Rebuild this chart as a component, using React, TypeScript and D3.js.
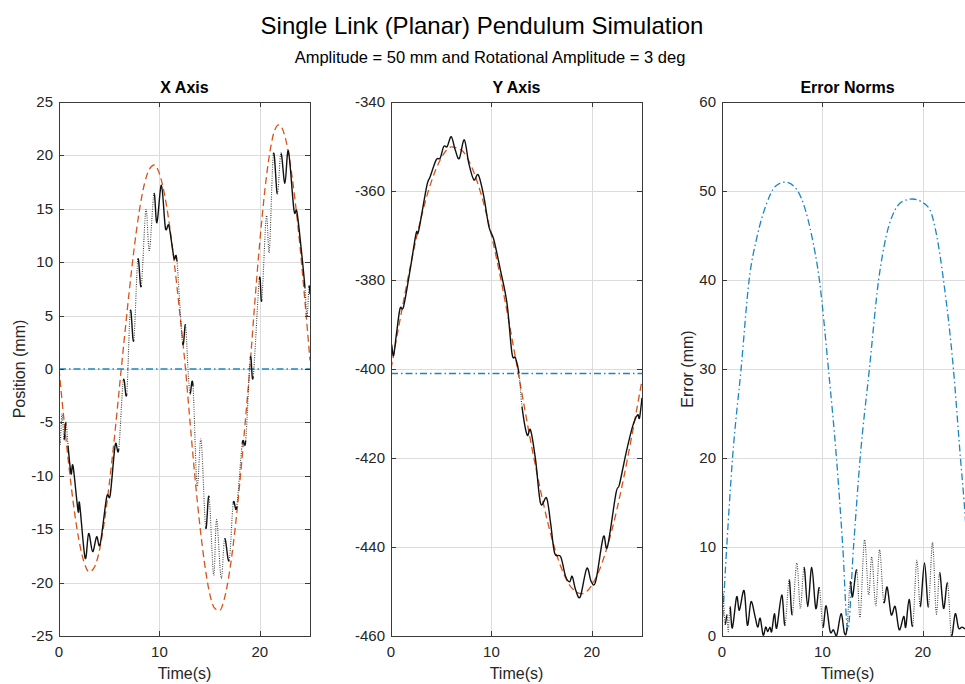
import React from 'react';
import * as d3 from 'd3';

const W = 965;
const H = 684;

const timeTicks = [0, 10, 20];
const posTicks = [-25, -20, -15, -10, -5, 0, 5, 10, 15, 20, 25];
const yAxTicks = [-460, -440, -420, -400, -380, -360, -340];
const errTicks = [0, 10, 20, 30, 40, 50, 60];

type P = [number, number];

// X Axis panel
const xReference: P[] = [[0,0],[0.5,-4.8],[1,-9.2],[1.5,-13.1],[2,-16.1],[2.5,-18.1],[3,-19.0],[3.5,-18.6],[4,-17.1],[4.5,-14.4],[5,-10.8],[5.5,-6.6],[6,-1.9],[6.2,0],[6.5,2.8],[7,7.3],[7.5,11.4],[8,14.8],[8.5,17.3],[9,18.7],[9.5,19.1],[10,18.3],[10.5,16.4],[11,13.5],[11.5,9.8],[12,5.5],[12.6,0],[13,-4.4],[13.5,-9.7],[14,-14.4],[14.5,-18.2],[15,-21.0],[15.5,-22.4],[16,-22.6],[16.5,-21.4],[17,-18.9],[17.5,-15.3],[18,-10.7],[18.5,-5.5],[19,0],[19.5,6.2],[20,11.9],[20.5,16.7],[21,20.3],[21.5,22.4],[21.9,22.85],[22.5,21.8],[23,19.4],[23.5,15.9],[24,11.5],[24.5,6.3],[25,0.8]];
const xMeasured: P[] = [[0,-1.0],[0.1,-7.0],[0.3,-4.2],[0.5,-6.6],[0.7,-5.0],[0.9,-7.2],[1.2,-9.8],[1.4,-9.1],[1.9,-13.3],[2.05,-12.6],[2.6,-17.7],[2.95,-15.4],[3.35,-17.1],[3.75,-15.7],[4.1,-16.4],[4.75,-12.0],[5.1,-11.8],[5.6,-7.1],[5.95,-7.5],[6.4,-1.1],[6.75,-2.3],[7.1,5.4],[7.45,2.7],[7.85,10.2],[8.2,7.8],[8.65,14.9],[9.0,11.1],[9.45,16.4],[9.75,13.7],[10.2,17.2],[10.6,13.2],[10.95,13.4],[11.45,10.4],[11.75,10.1],[12.3,2.5],[12.6,4.1],[12.85,0],[13.05,-2.3],[13.35,-1.6],[13.75,-10.9],[14.15,-6.6],[14.6,-14.8],[14.95,-12.0],[15.4,-19.3],[15.7,-14.1],[16.15,-19.6],[16.5,-15.9],[16.95,-17.9],[17.35,-12.6],[17.7,-12.9],[18.25,-7.0],[18.6,-6.7],[19.05,1.0],[19.35,-0.7],[19.95,8.4],[20.2,6.5],[20.65,14.3],[20.95,11.0],[21.35,20.1],[21.75,16.4],[22.1,20.2],[22.5,17.4],[22.85,20.4],[23.4,14.9],[23.7,14.7],[24.15,11.0],[24.5,7.6],[24.7,4.9],[24.9,7.7],[25.0,7.0]];
const xBaseline: P[] = [[0,0],[25,0]];

// Y Axis panel
const yReference: P[] = [[0,-400],[1,-387.7],[2,-376.1],[3,-366.0],[4,-358.0],[5,-352.6],[6,-350.1],[7,-350.8],[8,-354.4],[9,-360.9],[10,-369.9],[11,-380.5],[12,-392.5],[12.6,-400],[13,-405.0],[14,-417.3],[15,-428.4],[16,-437.9],[17,-444.9],[18,-449.2],[19,-450.5],[20,-448.6],[21,-443.7],[22,-436.2],[23,-426.4],[24,-414.9],[25,-402.5]];
const yMeasured: P[] = [[0,-400],[0.05,-394.6],[0.25,-397],[0.55,-392],[0.9,-386.4],[1.25,-386],[1.9,-377.8],[2.5,-369.5],[2.75,-369],[3.55,-359],[3.9,-356.8],[4.5,-353],[4.9,-352.6],[5.25,-350],[5.6,-350],[6.0,-347.8],[6.4,-350.8],[6.8,-352.7],[7.3,-348.5],[7.75,-353.8],[8.25,-357.5],[8.7,-356.4],[9.25,-361.3],[9.75,-368],[10.25,-371],[10.9,-377.8],[11.55,-385.2],[12.05,-396.5],[12.4,-397.5],[12.75,-401],[13.05,-408.5],[13.55,-414.8],[13.9,-413.7],[14.4,-420.4],[14.9,-430.2],[15.5,-429],[15.9,-434.7],[16.3,-441.4],[16.9,-442.2],[17.4,-446.7],[17.8,-447.8],[18.05,-446.6],[18.4,-449.7],[18.85,-451.2],[19.5,-444.8],[19.95,-447.8],[20.4,-447.6],[21.15,-437.7],[21.55,-440],[22.4,-428],[22.75,-426],[23.4,-419],[24.05,-413],[24.55,-410.3],[24.75,-411],[25,-406.5]];
const yBaseline: P[] = [[0,-401],[25,-401]];

// Error Norms panel
const errReference: P[] = [[0,0.5],[0.47,10],[1.05,20],[1.9,30],[2.7,40],[3.5,44.9],[4.45,48.6],[5.3,50.5],[6.28,51.0],[7.2,50.5],[8.1,48.6],[8.95,44.9],[9.7,40],[10.6,30],[11.4,20],[12.03,10],[12.53,0.7],[13.1,10],[13.76,20],[14.68,30],[15.6,40],[16.35,44.9],[17.25,47.9],[18.1,48.9],[18.97,49.1],[19.85,48.8],[20.7,47.9],[21.4,44.9],[22.06,40],[23.05,30],[23.75,20],[24.1,15.3],[24.5,9],[25,1.5]];
const errMeasured: P[] = [[0,1.0],[0.1,4.8],[0.3,1.4],[0.5,2.35],[0.63,0.5],[0.8,3.3],[1.03,0.9],[1.46,4.4],[1.73,2.9],[2.2,5.1],[2.53,1.2],[2.89,3.86],[3.29,2.2],[3.56,1.0],[3.8,2.0],[4.1,0.1],[4.35,1.0],[4.55,0.5],[4.78,1.0],[4.95,0.5],[5.22,2.5],[5.45,0.9],[5.95,4.6],[6.28,1.2],[6.68,6.3],[7.0,2.4],[7.45,8.2],[7.8,3.1],[8.17,7.7],[8.54,3.3],[8.94,7.7],[9.34,3.1],[9.7,5.4],[10.04,1.0],[10.37,3.4],[10.77,0.5],[11.1,0.7],[11.43,0.1],[11.86,2.5],[12.2,0.3],[12.45,0.9],[12.76,6.0],[13.0,4.4],[13.43,7.4],[13.76,2.1],[14.19,10.8],[14.6,4.6],[14.92,8.9],[15.32,3.4],[15.69,9.7],[16.1,3.86],[16.45,5.5],[16.85,2.4],[17.25,3.3],[17.65,0.7],[18.1,2.2],[18.3,1.0],[18.64,4.1],[19.0,1.2],[19.4,8.5],[19.74,3.3],[20.17,8.2],[20.57,3.3],[20.97,10.5],[21.34,2.5],[21.67,7.1],[22.07,3.1],[22.47,5.9],[22.84,0.1],[23.23,2.5],[23.56,0.9],[23.9,1.0],[24.3,0.8],[25,1.0]];

const FONT = 'Liberation Sans, Arial, Helvetica, sans-serif';
const TXT = '#262626';
const RED = '#D95319';
const BLUE = '#1a86c2';

type PanelProps = {
  id: string;
  left: number;
  right: number;
  top: number;
  bottom: number;
  yDomain: [number, number];
  yTicks: number[];
  title: string;
  yLabel?: string;
  yLabelX?: number;
  reference: P[];
  measured: P[];
  baseline: P[];
  refIsBlue?: boolean;
};

function measuredSegments(data: P[], xs: d3.ScaleLinear<number, number>, ys: d3.ScaleLinear<number, number>) {
  const pts = data.map(([t, v]) => [xs(t), ys(v)] as [number, number]);
  const groups: { steep: boolean; d: string }[] = [];
  for (let i = 0; i < pts.length - 1; i++) {
    const p0 = pts[Math.max(0, i - 1)];
    const p1 = pts[i];
    const p2 = pts[i + 1];
    const p3 = pts[Math.min(pts.length - 1, i + 2)];
    const c1 = [p1[0] + (p2[0] - p0[0]) / 6, p1[1] + (p2[1] - p0[1]) / 6];
    const c2 = [p2[0] - (p3[0] - p1[0]) / 6, p2[1] - (p3[1] - p1[1]) / 6];
    const slope = Math.abs(p2[1] - p1[1]) / Math.max(0.1, Math.abs(p2[0] - p1[0]));
    const steep = slope > 11;
    const seg = `C${c1[0].toFixed(2)},${c1[1].toFixed(2)} ${c2[0].toFixed(2)},${c2[1].toFixed(2)} ${p2[0].toFixed(2)},${p2[1].toFixed(2)}`;
    const last = groups[groups.length - 1];
    if (last && last.steep === steep) {
      last.d += seg;
    } else {
      groups.push({ steep, d: `M${p1[0].toFixed(2)},${p1[1].toFixed(2)}` + seg });
    }
  }
  return groups;
}

function Panel(p: PanelProps) {
  const xs = d3.scaleLinear().domain([0, 25]).range([p.left, p.right]);
  const ys = d3.scaleLinear().domain(p.yDomain).range([p.bottom, p.top]);
  const smooth = d3.line<P>().x(d => xs(d[0])).y(d => ys(d[1])).curve(d3.curveMonotoneX);
  const flat = d3.line<P>().x(d => xs(d[0])).y(d => ys(d[1]));
  const segs = measuredSegments(p.measured, xs, ys);
  const tk = 5;
  const axisColor = '#3a3a3a';
  const gx = (t: number) => Math.round(xs(t)) + 0.5;
  const gy = (v: number) => Math.round(ys(v)) + 0.5;
  return (
    <g>
      <defs>
        <clipPath id={`clip-${p.id}`}>
          <rect x={p.left} y={p.top} width={p.right - p.left} height={p.bottom - p.top} />
        </clipPath>
      </defs>
      <rect x={p.left} y={p.top} width={p.right - p.left} height={p.bottom - p.top} fill="#fff" />
      {timeTicks.map(t => (
        <line key={`gx${t}`} x1={gx(t)} x2={gx(t)} y1={p.top} y2={p.bottom} stroke="#dcdcdc" strokeWidth={1} />
      ))}
      {p.yTicks.map(v => (
        <line key={`gy${v}`} x1={p.left} x2={p.right} y1={gy(v)} y2={gy(v)} stroke="#dcdcdc" strokeWidth={1} />
      ))}
      <g clipPath={`url(#clip-${p.id})`}>
        {p.baseline.length > 0 && (
          <path d={flat(p.baseline) || ''} fill="none" stroke={BLUE} strokeWidth={1.6} strokeDasharray="7 3 1.5 3" />
        )}
        <path d={smooth(p.reference) || ''} fill="none" stroke={p.refIsBlue ? BLUE : RED} strokeWidth={1.3}
          strokeDasharray={p.refIsBlue ? '7 3 1.5 3' : '7 4'} />
        {segs.map((s, i) => (
          <path key={i} d={s.d} fill="none"
            stroke={s.steep ? '#333' : '#111'}
            strokeWidth={s.steep ? 1.1 : 1.4}
            strokeDasharray={s.steep ? '0.9 1.4' : undefined} />
        ))}
      </g>
      <rect x={p.left + 0.5} y={p.top + 0.5} width={p.right - p.left} height={p.bottom - p.top} fill="none" stroke={axisColor} strokeWidth={1} />
      {timeTicks.map(t => (
        <g key={`tx${t}`}>
          <line x1={gx(t)} x2={gx(t)} y1={p.bottom} y2={p.bottom - tk} stroke={axisColor} />
          <line x1={gx(t)} x2={gx(t)} y1={p.top} y2={p.top + tk} stroke={axisColor} />
          <text x={xs(t)} y={p.bottom + 21} textAnchor="middle" fontSize={15} fontFamily={FONT} fill={TXT}>{t}</text>
        </g>
      ))}
      {p.yTicks.map(v => (
        <g key={`ty${v}`}>
          <line x1={p.left} x2={p.left + tk} y1={gy(v)} y2={gy(v)} stroke={axisColor} />
          <line x1={p.right} x2={p.right - tk} y1={gy(v)} y2={gy(v)} stroke={axisColor} />
          <text x={p.left - 6} y={ys(v) + 5} textAnchor="end" fontSize={15} fontFamily={FONT} fill={TXT}>{v}</text>
        </g>
      ))}
      <text x={(p.left + p.right) / 2} y={p.top - 9} textAnchor="middle" fontSize={16} fontWeight="bold" fontFamily={FONT} fill="#000">{p.title}</text>
      <text x={(p.left + p.right) / 2} y={p.bottom + 43} textAnchor="middle" fontSize={16} fontFamily={FONT} fill={TXT}>Time(s)</text>
      {p.yLabel && (
        <text transform={`translate(${p.yLabelX},${(p.top + p.bottom) / 2}) rotate(-90)`} textAnchor="middle" fontSize={16} fontFamily={FONT} fill={TXT}>{p.yLabel}</text>
      )}
    </g>
  );
}

export default function App() {
  const top = 102;
  const bottom = 636;
  return (
    <svg width={W} height={H} viewBox={`0 0 ${W} ${H}`} style={{ position: 'absolute', left: 0, top: 0, background: '#fff' }}>
      <rect x={0} y={0} width={W} height={H} fill="#fff" />
      <text x={482} y={34} textAnchor="middle" fontSize={24} fontFamily={FONT} fill="#000">Single Link (Planar) Pendulum Simulation</text>
      <text x={490} y={63} textAnchor="middle" fontSize={16.5} fontFamily={FONT} fill="#000">Amplitude = 50 mm and Rotational Amplitude = 3 deg</text>
      <Panel id="x" left={59} right={310} top={top} bottom={bottom} yDomain={[-25, 25]} yTicks={posTicks}
        title="X Axis" yLabel="Position (mm)" yLabelX={25}
        reference={xReference} measured={xMeasured} baseline={xBaseline} />
      <Panel id="y" left={391} right={642} top={top} bottom={bottom} yDomain={[-460, -340]} yTicks={yAxTicks}
        title="Y Axis"
        reference={yReference} measured={yMeasured} baseline={yBaseline} />
      <Panel id="e" left={722} right={973} top={top} bottom={bottom} yDomain={[0, 60]} yTicks={errTicks}
        title="Error Norms" yLabel="Error (mm)" yLabelX={693}
        reference={errReference} measured={errMeasured} baseline={[]} refIsBlue />
    </svg>
  );
}
